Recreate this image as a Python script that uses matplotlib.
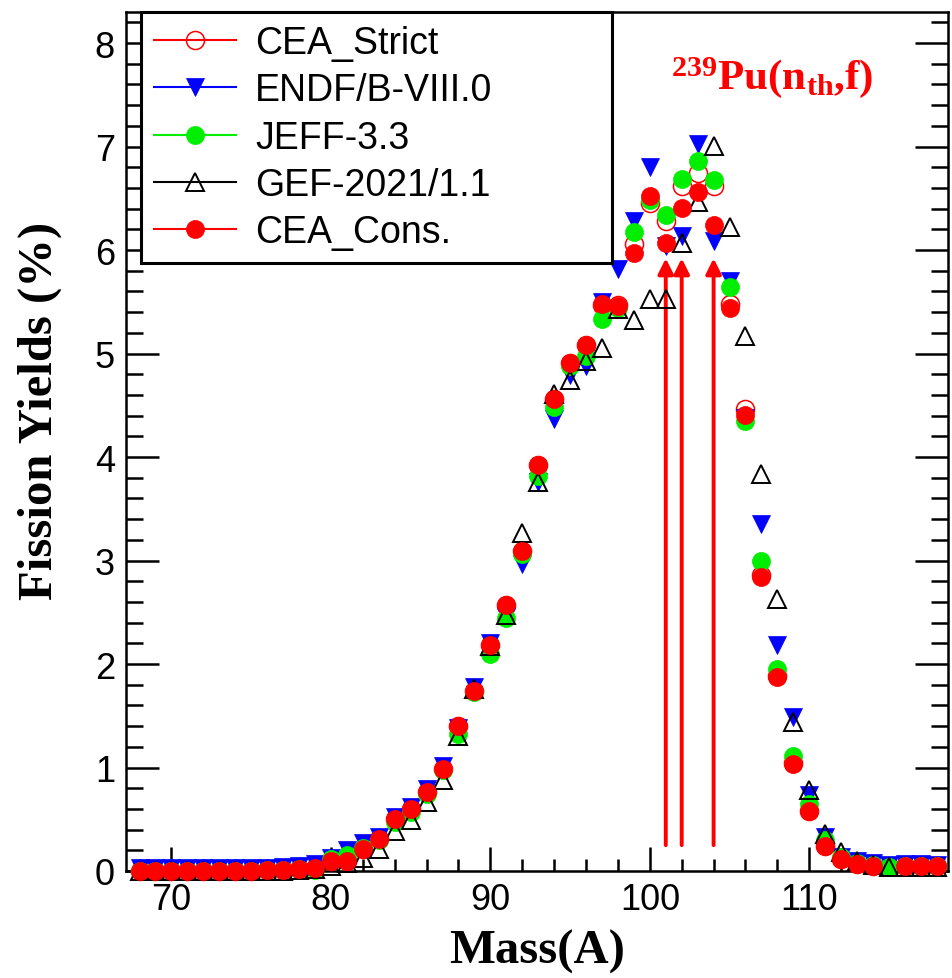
import numpy as np
import matplotlib
matplotlib.use("Agg")
import matplotlib.pyplot as plt
from matplotlib.lines import Line2D
from matplotlib.ticker import MultipleLocator

plt.rcParams['mathtext.fontset'] = 'custom'
plt.rcParams['mathtext.rm'] = 'Liberation Serif:bold'
plt.rcParams['mathtext.it'] = 'Liberation Serif:bold'
plt.rcParams['mathtext.bf'] = 'Liberation Serif:bold'

mass = np.arange(68, 119)

# yields in %, A = 68 ... 118
cea_strict = [0.00, 0.00, 0.00, 0.00, 0.00, 0.00, 0.00, 0.00, 0.01, 0.01,
              0.02, 0.03, 0.10, 0.10, 0.21, 0.31, 0.50, 0.60, 0.76, 0.99,
              1.40, 1.74, 2.18, 2.57, 3.09, 3.92, 4.56, 4.91, 5.08, 5.47,
              5.47, 6.06, 6.45, 6.28, 6.62, 6.74, 6.62, 5.48, 4.46, 2.86,
              1.88, 1.04, 0.58, 0.24, 0.12, 0.07, 0.05, np.nan, 0.05, 0.05,
              0.05]
endf = [0.03, 0.03, 0.03, 0.03, 0.03, 0.03, 0.03, 0.03, 0.03, 0.04,
        0.05, 0.07, 0.13, 0.20, 0.27, 0.33, 0.52, 0.62, 0.79, 1.01,
        1.38, 1.78, 2.20, 2.45, 2.97, 3.76, 4.37, 4.79, 4.88, 5.50,
        5.82, 6.28, 6.80, 6.04, 6.14, 7.02, 6.09, 5.70, 4.38, 3.35,
        2.18, 1.49, 0.73, 0.33, 0.14, 0.10, 0.08, 0.06, 0.07, 0.07,
        0.06]
jeff = [0.00, 0.00, 0.00, 0.00, 0.00, 0.00, 0.00, 0.00, 0.01, 0.01,
        0.02, 0.01, 0.12, 0.15, 0.22, 0.30, 0.47, 0.57, 0.74, 0.98,
        1.32, 1.73, 2.10, 2.44, 3.06, 3.82, 4.48, 4.88, 4.98, 5.33,
        5.44, 6.17, 6.48, 6.34, 6.69, 6.86, 6.68, 5.64, 4.35, 3.00,
        1.95, 1.11, 0.65, 0.30, 0.14, 0.08, 0.06, 0.04, 0.05, 0.05,
        0.05]
gef = [0.00, 0.00, 0.00, 0.00, 0.00, 0.00, 0.00, 0.00, 0.00, 0.00,
       0.01, 0.02, 0.05, 0.08, 0.13, 0.21, 0.39, 0.49, 0.67, 0.88,
       1.30, 1.76, 2.17, 2.47, 3.27, 3.76, 4.61, 4.74, 4.93, 5.05,
       5.43, 5.32, 5.53, 5.53, 6.07, 6.46, 7.01, 6.22, 5.17, 3.84,
       2.63, 1.44, 0.78, 0.36, 0.18, 0.10, 0.06, 0.04, 0.04, 0.04,
       0.04]
cea_cons = [0.00, 0.00, 0.00, 0.00, 0.00, 0.00, 0.00, 0.00, 0.01, 0.01,
            0.02, 0.03, 0.10, 0.10, 0.21, 0.31, 0.50, 0.60, 0.76, 0.99,
            1.40, 1.74, 2.18, 2.57, 3.09, 3.92, 4.56, 4.91, 5.08, 5.48,
            5.46, 5.97, 6.52, 6.07, 6.41, 6.56, 6.24, 5.44, 4.41, 2.84,
            1.87, 1.03, 0.58, 0.24, 0.12, 0.07, 0.05, np.nan, 0.05, 0.05,
            0.05]

arrow_mass = [101, 102, 104]
arrow_base = 0.25
arrow_tip = 5.92

fig = plt.figure(figsize=(9.53, 9.79), dpi=100)
ax = fig.add_axes([126 / 953, 107 / 979, 822 / 953, 859 / 979])

series = [
    ('CEA_Strict', cea_strict, dict(color='red', marker='o', ms=13, mfc='none', mec='red', mew=1.1)),
    ('ENDF/B-VIII.0', endf, dict(color='blue', marker='v', ms=13, mfc='blue', mec='blue', mew=0.5)),
    ('JEFF-3.3', jeff, dict(color='#00ee00', marker='o', ms=13, mfc='#00ee00', mec='#00ee00', mew=0.5)),
    ('GEF-2021/1.1', gef, dict(color='black', marker='^', ms=13.5, mfc='none', mec='black', mew=1.4)),
    ('CEA_Cons.', cea_cons, dict(color='red', marker='o', ms=13, mfc='red', mec='red', mew=0.5)),
]

handles = []
for i, (name, vals, st) in enumerate(series):
    ax.plot(mass, vals, ls='none', clip_on=False, zorder=3 + i, **st)
    handles.append(Line2D([], [], ls='-', lw=1.5, label=name, **st))

for m in arrow_mass:
    ax.annotate('', xy=(m, arrow_tip), xytext=(m, arrow_base),
                arrowprops=dict(arrowstyle='-|>', color='red', lw=2.8,
                                mutation_scale=23, shrinkA=0, shrinkB=0),
                zorder=2)

ax.set_xlim(67.15, 118.7)
ax.set_ylim(0, 8.3)
ax.xaxis.set_major_locator(MultipleLocator(10))
ax.xaxis.set_minor_locator(MultipleLocator(2))
ax.yaxis.set_major_locator(MultipleLocator(1))
ax.yaxis.set_minor_locator(MultipleLocator(0.2))

for s in ax.spines.values():
    s.set_linewidth(1.8)

ax.tick_params(axis='x', which='major', direction='in', length=17, width=1.8, pad=8,
               labelsize=26)
ax.tick_params(axis='x', which='minor', direction='in', length=8.6, width=1.8)
ax.tick_params(axis='y', which='major', direction='in', length=24, width=1.8, pad=8,
               labelsize=26, right=True)
ax.tick_params(axis='y', which='minor', direction='in', length=12, width=1.8, right=True)
for lab in ax.get_xticklabels() + ax.get_yticklabels():
    lab.set_fontfamily('Liberation Sans')

fig.text(537 / 953, 1 - 952 / 979, 'Mass(A)', family='Liberation Serif',
         weight='bold', size=35, ha='center', va='center')
fig.text(40 / 953, 1 - 411 / 979, 'Fission Yields (%)', family='Liberation Serif',
         weight='bold', size=35, ha='center', va='center', rotation=90)

ax.text(0.786, 0.925, r'$\mathrm{^{239}Pu(n_{th}{,}f)}$', transform=ax.transAxes,
        color='red', size=31, ha='center', va='center')

leg = ax.legend(handles=handles, loc='upper left', bbox_to_anchor=(0.018, 0.68, 0.573, 0.32),
                mode='expand', borderaxespad=0, numpoints=1, fancybox=False,
                prop={'family': 'Liberation Sans', 'size': 27}, handlelength=2.2,
                handletextpad=0.5, labelspacing=0.3, borderpad=0.35, framealpha=1)
leg.get_frame().set_edgecolor('black')
leg.get_frame().set_linewidth(2.2)
leg.set_zorder(20)

fig.savefig('out.png', dpi=100)
